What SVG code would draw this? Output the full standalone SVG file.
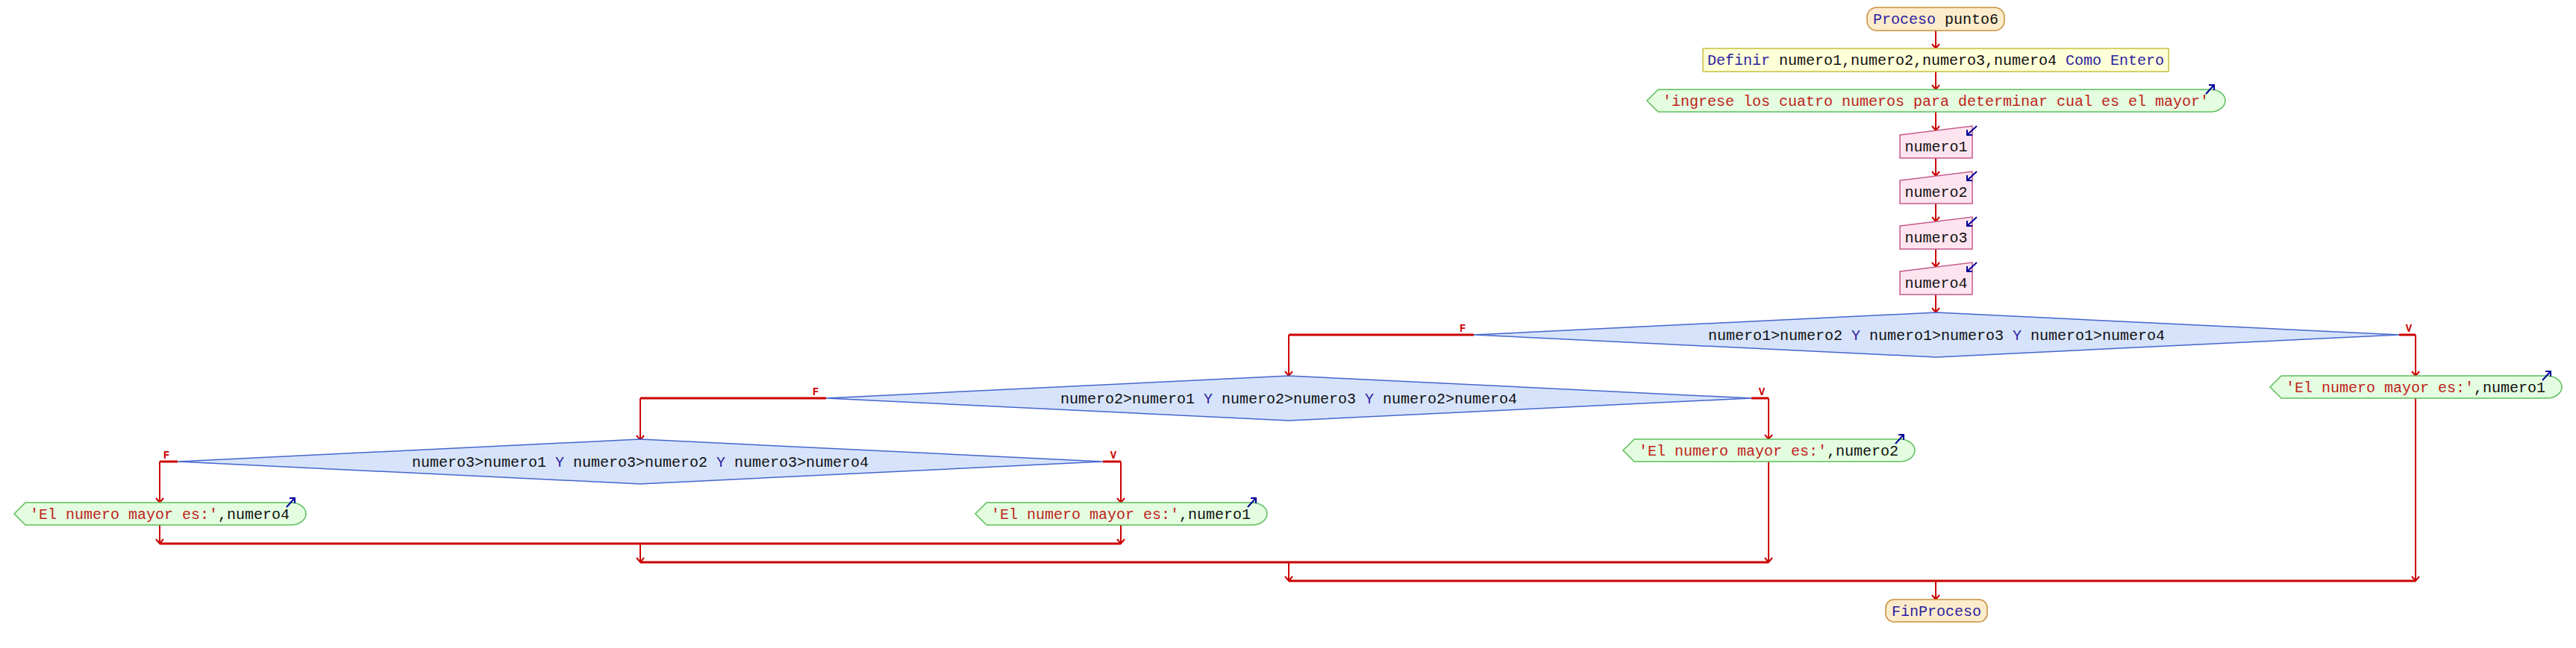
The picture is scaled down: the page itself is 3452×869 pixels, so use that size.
<svg xmlns="http://www.w3.org/2000/svg" width="3452" height="869" viewBox="0 0 3452 869">
<style>
text{font-family:"Liberation Mono","DejaVu Sans Mono",monospace;font-size:20px;fill:#111}
.kw{fill:#2e22a0}
.str{fill:#c0221c}
.lbl{font-size:14px;font-weight:bold;fill:#cc0000}
.term{fill:#fdeccc;stroke:#c8903c;stroke-width:1.5}
.def{fill:#ffffd8;stroke:#c8c040;stroke-width:1.5}
.out{fill:#e4fde0;stroke:#5cbf5c;stroke-width:1.5}
.inp{fill:#fde4ef;stroke:#c45a8a;stroke-width:1.5}
.dec{fill:#d6e3fb;stroke:#4466cc;stroke-width:1.5}
.v{fill:none;stroke:#cc0000;stroke-width:2}
.h{fill:none;stroke:#cc0000;stroke-width:3}
.io{fill:none;stroke:#000099;stroke-width:2}
</style>
<defs>
<marker id="ah" viewBox="0 0 8 12" refX="7" refY="6" markerWidth="8" markerHeight="12" markerUnits="userSpaceOnUse" orient="auto">
<path d="M1,1 L7,6 L1,11" fill="none" stroke="#cc0000" stroke-width="2"/>
</marker>
<path id="oarr" class="io" d="M-11,12 L0,0 M-7,0 L0,0 L0,7"/>
<path id="iarr" class="io" d="M6,0 L-7,12 M-7,5 L-7,12 L0,12"/>
</defs>

<g id="connectors">
<path class="v" d="M2594,41 V65" marker-end="url(#ah)"/>
<path class="v" d="M2594,96 V120" marker-end="url(#ah)"/>
<path class="v" d="M2594,150 V175" marker-end="url(#ah)"/>
<path class="v" d="M2594,212 V236" marker-end="url(#ah)"/>
<path class="v" d="M2594,273 V297" marker-end="url(#ah)"/>
<path class="v" d="M2594,334 V358" marker-end="url(#ah)"/>
<path class="v" d="M2594,395 V419" marker-end="url(#ah)"/>
<path class="h" d="M1975,449 H1727"/>
<path class="v" d="M1727,449 V504" marker-end="url(#ah)"/>
<path class="h" d="M3215,449 H3237"/>
<path class="v" d="M3237,449 V504" marker-end="url(#ah)"/>
<path class="h" d="M1107,534 H858"/>
<path class="v" d="M858,534 V590" marker-end="url(#ah)"/>
<path class="h" d="M2347,534 H2370"/>
<path class="v" d="M2370,534 V589" marker-end="url(#ah)"/>
<path class="h" d="M238,619 H214"/>
<path class="v" d="M214,619 V674" marker-end="url(#ah)"/>
<path class="h" d="M1478,619 H1502"/>
<path class="v" d="M1502,619 V674" marker-end="url(#ah)"/>
<path class="v" d="M214,704 V729" marker-end="url(#ah)"/>
<path class="v" d="M1502,704 V729" marker-end="url(#ah)"/>
<path class="h" d="M214,729 H1502"/>
<path class="v" d="M858,729 V754" marker-end="url(#ah)"/>
<path class="v" d="M2370,619 V754" marker-end="url(#ah)"/>
<path class="h" d="M858,754 H2370"/>
<path class="v" d="M1727,754 V779" marker-end="url(#ah)"/>
<path class="v" d="M3237,534 V779" marker-end="url(#ah)"/>
<path class="h" d="M1727,779 H3237"/>
<path class="v" d="M2594,779 V804" marker-end="url(#ah)"/>
<text class="lbl" x="1960" y="445" text-anchor="middle">F</text>
<text class="lbl" x="3228" y="445" text-anchor="middle">V</text>
<text class="lbl" x="1093" y="530" text-anchor="middle">F</text>
<text class="lbl" x="2361" y="530" text-anchor="middle">V</text>
<text class="lbl" x="223" y="615" text-anchor="middle">F</text>
<text class="lbl" x="1492" y="615" text-anchor="middle">V</text>
</g>

<g id="start">
<rect class="term" x="2502" y="10" width="184" height="31" rx="13"/>
<text x="2594" y="32" text-anchor="middle"><tspan class="kw">Proceso</tspan> punto6</text>
</g>

<g id="define">
<rect class="def" x="2282" y="65" width="624" height="31"/>
<text x="2594" y="87" text-anchor="middle"><tspan class="kw">Definir</tspan> numero1,numero2,numero3,numero4 <tspan class="kw">Como Entero</tspan></text>
</g>

<g id="out_intro">
<path class="out" d="M2222,120 H2962 A20,15 0 0 1 2962,150 H2222 L2207,135 Z"/>
<text class="str" x="2594" y="142" text-anchor="middle">'ingrese los cuatro numeros para determinar cual es el mayor'</text>
<use href="#oarr" x="2967" y="114"/>
</g>

<g id="read1">
<path class="inp" d="M2546,181 L2643,169 V212 H2546 Z"/>
<text x="2594.5" y="203" text-anchor="middle">numero1</text>
<use href="#iarr" x="2643" y="169"/>
</g>
<g id="read2">
<path class="inp" d="M2546,242 L2643,230 V273 H2546 Z"/>
<text x="2594.5" y="264" text-anchor="middle">numero2</text>
<use href="#iarr" x="2643" y="230"/>
</g>
<g id="read3">
<path class="inp" d="M2546,303 L2643,291 V334 H2546 Z"/>
<text x="2594.5" y="325" text-anchor="middle">numero3</text>
<use href="#iarr" x="2643" y="291"/>
</g>
<g id="read4">
<path class="inp" d="M2546,364 L2643,352 V395 H2546 Z"/>
<text x="2594.5" y="386" text-anchor="middle">numero4</text>
<use href="#iarr" x="2643" y="352"/>
</g>

<g id="dec1">
<path class="dec" d="M2595,419 L3215,449 L2595,479 L1975,449 Z"/>
<text x="2595" y="456" text-anchor="middle">numero1&gt;numero2 <tspan class="kw">Y</tspan> numero1&gt;numero3 <tspan class="kw">Y</tspan> numero1&gt;numero4</text>
</g>

<g id="dec2">
<path class="dec" d="M1727,504 L2347,534 L1727,564 L1107,534 Z"/>
<text x="1727" y="541" text-anchor="middle">numero2&gt;numero1 <tspan class="kw">Y</tspan> numero2&gt;numero3 <tspan class="kw">Y</tspan> numero2&gt;numero4</text>
</g>

<g id="dec3">
<path class="dec" d="M858,589 L1478,619 L858,649 L238,619 Z"/>
<text x="858" y="626" text-anchor="middle">numero3&gt;numero1 <tspan class="kw">Y</tspan> numero3&gt;numero2 <tspan class="kw">Y</tspan> numero3&gt;numero4</text>
</g>

<g id="out_n1_right">
<path class="out" d="M3057,504 H3413 A20,15 0 0 1 3413,534 H3057 L3042,519 Z"/>
<text x="3237" y="526" text-anchor="middle"><tspan class="str">'El numero mayor es:'</tspan>,numero1</text>
<use href="#oarr" x="3418" y="498"/>
</g>

<g id="out_n2">
<path class="out" d="M2190,589 H2546 A20,15 0 0 1 2546,619 H2190 L2175,604 Z"/>
<text x="2370" y="611" text-anchor="middle"><tspan class="str">'El numero mayor es:'</tspan>,numero2</text>
<use href="#oarr" x="2551" y="583"/>
</g>

<g id="out_n1_mid">
<path class="out" d="M1322,674 H1678 A20,15 0 0 1 1678,704 H1322 L1307,689 Z"/>
<text x="1502" y="696" text-anchor="middle"><tspan class="str">'El numero mayor es:'</tspan>,numero1</text>
<use href="#oarr" x="1683" y="668"/>
</g>

<g id="out_n4">
<path class="out" d="M34,674 H390 A20,15 0 0 1 390,704 H34 L19,689 Z"/>
<text x="214" y="696" text-anchor="middle"><tspan class="str">'El numero mayor es:'</tspan>,numero4</text>
<use href="#oarr" x="395" y="668"/>
</g>

<g id="end">
<rect class="term" x="2527" y="804" width="136" height="30" rx="11"/>
<text class="kw" x="2595" y="826" text-anchor="middle">FinProceso</text>
</g>
</svg>
